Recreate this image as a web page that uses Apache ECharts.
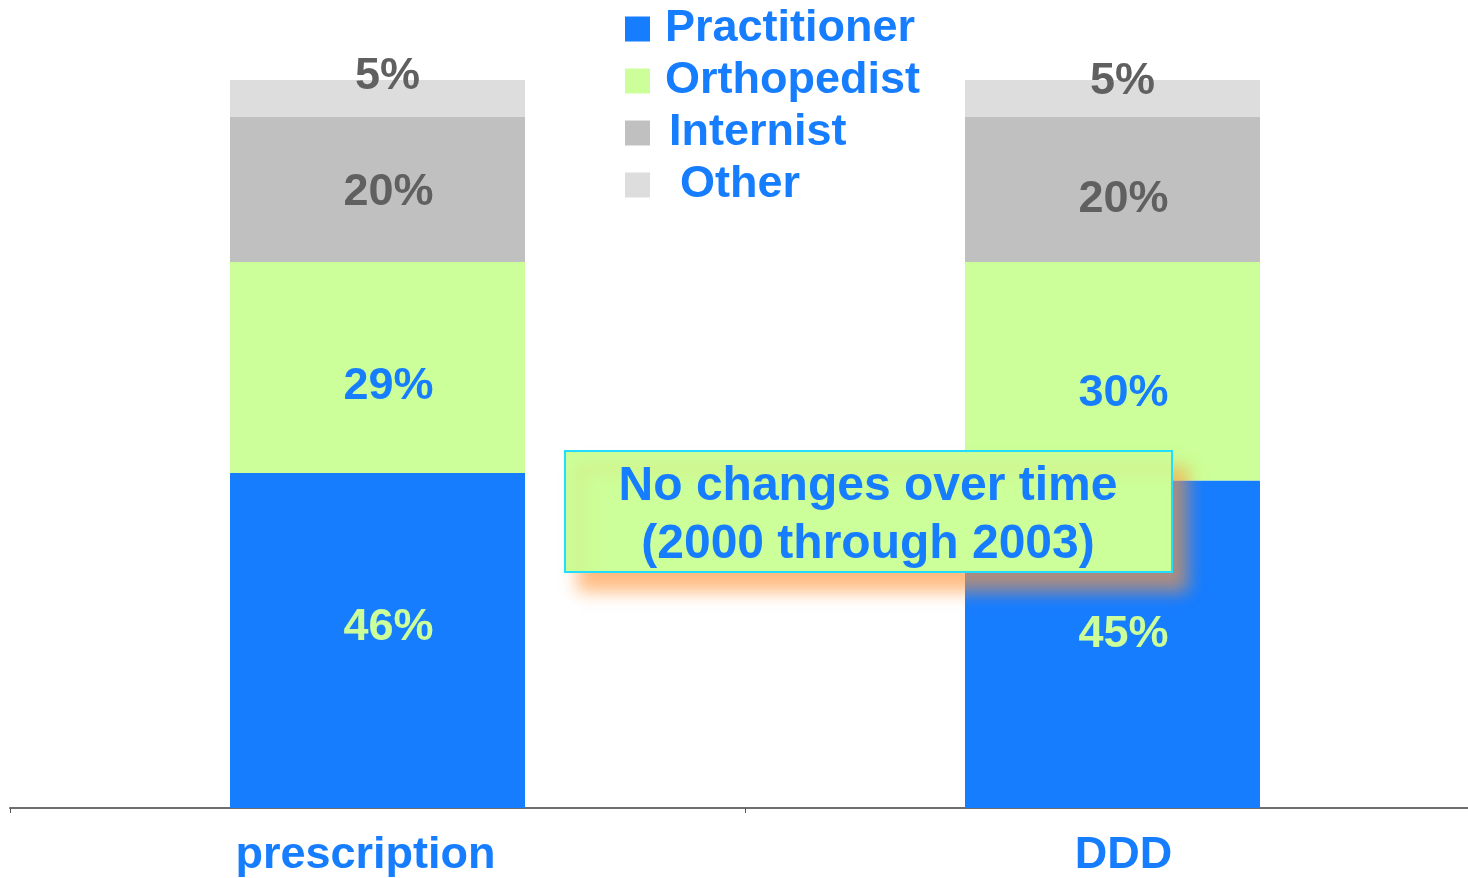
<!DOCTYPE html>
<html>
<head>
<meta charset="utf-8">
<style>
  html, body { margin: 0; padding: 0; background: #fff; }
  #chart { width: 1468px; height: 878px; }
</style>
<script src="https://cdn.jsdelivr.net/npm/echarts@6/dist/echarts.min.js"></script>
</head>
<body>
<div id="chart"></div>
<script>
// categories and shares (%)
var categories = ['prescription', 'DDD'];
var practitioner = [46, 45];
var orthopedist = [29, 30];
var internist = [20, 20];
var other = [5, 5];

var BLUE = '#177dff';
var FONT = '"Liberation Sans", Arial, sans-serif';

(function(){
  var chart = echarts.init(document.getElementById('chart'), null, { renderer: 'canvas' });

  // label offsets per bar (prescription, DDD)
  function seg(name, values, color, labelColor, offsets){
    return {
      name: name,
      type: 'bar',
      stack: 'total',
      barWidth: 295,
      data: values.map(function(v, i){
        return { value: v, label: { offset: offsets[i] } };
      }),
      itemStyle: { color: color },
      label: {
        show: true,
        position: 'inside',
        formatter: '{c}%',
        color: labelColor,
        fontFamily: FONT,
        fontWeight: 'bold',
        fontSize: 45
      },
      emphasis: { disabled: true }
    };
  }

  var option = {
    animation: false,
    textStyle: { fontFamily: FONT },
    // the axis runs a little past the right edge of the page
    grid: { left: 10, top: 80, width: 1470, bottom: 70, containLabel: false, outerBoundsMode: 'none' },
    legend: {
      orient: 'vertical',
      left: 625,
      top: 3,
      padding: 0,
      itemWidth: 25,
      itemHeight: 25,
      itemGap: 0,
      icon: 'rect',
      selectedMode: false,
      textStyle: { color: BLUE, fontFamily: FONT, fontWeight: 'bold', fontSize: 45, lineHeight: 52 },
      data: [
        { name: 'Practitioner', textStyle: { padding: [0, 0, 0, 10] } },
        { name: 'Orthopedist', textStyle: { padding: [0, 0, 0, 10] } },
        { name: 'Internist', textStyle: { padding: [0, 0, 0, 14] } },
        { name: 'Other', textStyle: { padding: [0, 0, 0, 25] } }
      ]
    },
    xAxis: {
      type: 'category',
      data: categories,
      axisLine: { lineStyle: { color: '#6e6e6e', width: 2 } },
      axisTick: { show: true, length: 5, lineStyle: { color: '#555' } },
      axisLabel: {
        color: BLUE,
        fontFamily: FONT,
        fontWeight: 'bold',
        fontSize: 45,
        margin: 25,
        formatter: function(v){ return v === 'DDD' ? '{r|' + v + '}' : '{l|' + v + '}'; },
        rich: {
          l: { color: BLUE, fontFamily: FONT, fontWeight: 'bold', fontSize: 45, padding: [0, 24, 0, 0] },
          r: { color: BLUE, fontFamily: FONT, fontWeight: 'bold', fontSize: 45, padding: [0, 0, 0, 22] }
        }
      }
    },
    yAxis: { type: 'value', min: 0, max: 100, show: false },
    series: [
      seg('Practitioner', practitioner, BLUE, '#ccff99', [[11, -13], [11, -10]]),
      seg('Orthopedist', orthopedist, '#ccff99', BLUE, [[11, 19], [11, 22]]),
      seg('Internist', internist, '#c0c0c0', '#606060', [[11, 3], [11, 10]]),
      seg('Other', other, '#dddddd', '#606060', [[10, -22], [10, -17]])
    ],
    graphic: [
      {
        type: 'rect',
        shape: { x: 565, y: 451, width: 607, height: 121 },
        style: {
          fill: '#ccff99',
          stroke: '#22ddff',
          lineWidth: 2,
          shadowColor: 'rgba(255, 150, 60, 0.65)',
          shadowBlur: 16,
          shadowOffsetX: 14,
          shadowOffsetY: 18
        },
        z: 100
      },
      {
        type: 'text',
        x: 868,
        y: 516,
        style: {
          text: 'No changes over time\n(2000 through 2003)',
          fill: BLUE,
          font: 'bold 48px ' + FONT,
          lineHeight: 58,
          align: 'center',
          verticalAlign: 'middle'
        },
        z: 101
      }
    ]
  };

  chart.setOption(option);
})();
</script>
</body>
</html>
